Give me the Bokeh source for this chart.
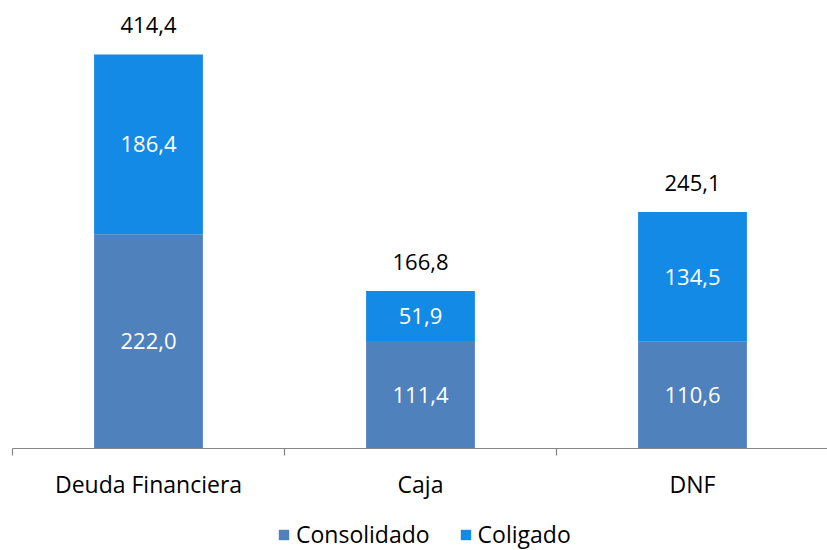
from bokeh.plotting import figure
from bokeh.models import ColumnDataSource, Range1d, LabelSet, Legend
from bokeh.core.properties import value
from bokeh.embed import file_html
from bokeh.resources import INLINE

categories = ["Deuda Financiera", "Caja", "DNF"]
consolidado = [222.0, 111.4, 110.6]
coligado = [186.4, 51.9, 134.5]
totales = [414.4, 166.8, 245.1]

FONT = "Open Sans"
C_CONS = "#4F81BD"
C_COL = "#138AE6"
AXIS_C = "#868686"

W, H = 827, 550
PX_X = 272.0      # pixels per category
PX_Y = 0.965      # pixels per unit
LEFT, BASE = 12, 448

def fmt(v):
    return f"{v:.1f}".replace(".", ",")

n = len(categories)
xs = [i + 0.5 for i in range(n)]
bounds = list(range(n + 1))

src = ColumnDataSource(dict(
    x=xs,
    zero=[0] * n,
    cat=categories,
    consolidado=consolidado,
    coligado=coligado,
    cons_mid=[c / 2 for c in consolidado],
    col_mid=[c + g / 2 for c, g in zip(consolidado, coligado)],
    top=[c + g for c, g in zip(consolidado, coligado)],
    cons_lbl=[fmt(v) for v in consolidado],
    col_lbl=[fmt(v) for v in coligado],
    tot_lbl=[fmt(v) for v in totales],
))

p = figure(width=W, height=H, output_backend="svg", toolbar_location=None,
           x_axis_type=None, y_axis_type=None,
           x_range=Range1d(-LEFT / PX_X, (W - LEFT) / PX_X),
           y_range=Range1d(-(H - BASE) / PX_Y, BASE / PX_Y),
           min_border=0)
p.outline_line_color = None
p.grid.visible = False

r = p.vbar_stack(["consolidado", "coligado"], x="x", width=0.4, source=src,
                 color=[C_CONS, C_COL], line_color=None)

# category axis: baseline and boundary ticks
p.segment(x0=[bounds[0]], y0=[0], x1=[bounds[-1]], y1=[0],
          line_color=AXIS_C, line_width=1.2)
p.segment(x0=bounds, y0=[0] * len(bounds), x1=bounds,
          y1=[-7 / PX_Y] * len(bounds), line_color=AXIS_C, line_width=1.2)

p.add_layout(LabelSet(x="x", y="zero", text="cat", source=src, text_align="center",
                      text_baseline="middle", y_offset=-35,
                      text_font=value(FONT), text_font_size=value("23px"),
                      text_color="#000000"))

for y, t, col, off in [("cons_mid", "cons_lbl", "white", 0),
                       ("col_mid", "col_lbl", "white", 0),
                       ("top", "tot_lbl", "black", 29)]:
    p.add_layout(LabelSet(x="x", y=y, text=t, source=src, text_align="center",
                          text_baseline="middle", y_offset=off,
                          text_font=value(FONT), text_font_size=value("22px"),
                          text_color=col))

legend = Legend(items=[("Consolidado", [r[0]]), ("Coligado", [r[1]])],
                orientation="horizontal", location=(277, 0),
                label_text_font=FONT, label_text_font_size="23px",
                label_text_color="#000000",
                glyph_width=13, glyph_height=13, label_standoff=6, spacing=29,
                border_line_color=None, background_fill_alpha=0,
                padding=0, margin=0)
p.add_layout(legend)

open("out.html", "w").write(file_html(p, INLINE))
